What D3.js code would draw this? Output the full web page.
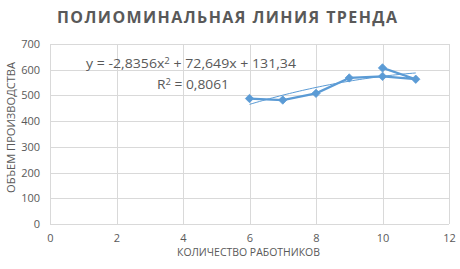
<!DOCTYPE html>
<html><head><meta charset="utf-8">
<script src="https://cdn.jsdelivr.net/npm/d3@7"></script>
<style>
html,body{margin:0;padding:0;background:#fff;}
text{font-family:"Open Sans","Noto Sans",sans-serif;fill:#595959;}
</style></head>
<body><svg id="chart" width="460" height="269"></svg>
<script>
const title = "ПОЛИОМИНАЛЬНАЯ ЛИНИЯ ТРЕНДА";
const xAxisTitle = "КОЛИЧЕСТВО РАБОТНИКОВ";
const yAxisTitle = "ОБЪЕМ ПРОИЗВОДСТВА";
const xValues = [6, 7, 8, 9, 10, 11, 10];
const yValues = [488, 482, 508, 568, 574, 563, 607];
const xTicks = [0, 2, 4, 6, 8, 10, 12];
const yTicks = [0, 100, 200, 300, 400, 500, 600, 700];
const trendCoef = [-2.8356, 72.649, 131.34]; // a, b, c
const trendRange = [6, 11];
const rSquared = "0,8061";

const svg = d3.select("#chart");
const x = d3.scaleLinear().domain([0, 12]).range([50, 449]);
const y = d3.scaleLinear().domain([0, 700]).range([224, 44]);
const grid = "#d9d9d9";
const blue = "#5b9bd5";
const font = '"Open Sans","Noto Sans",sans-serif';

// gridlines
svg.append("g").selectAll("line.h").data(yTicks).join("line")
  .attr("x1", x(0)).attr("x2", x(12))
  .attr("y1", d => Math.round(y(d)) + 0.5).attr("y2", d => Math.round(y(d)) + 0.5)
  .attr("stroke", grid).attr("stroke-width", 1);
svg.append("g").selectAll("line.v").data(xTicks).join("line")
  .attr("y1", y(0)).attr("y2", y(700))
  .attr("x1", d => Math.round(x(d)) + 0.5).attr("x2", d => Math.round(x(d)) + 0.5)
  .attr("stroke", grid).attr("stroke-width", 1);

// axes
const xAxis = d3.axisBottom(x).tickValues(xTicks).tickSize(0).tickPadding(10);
const gx = svg.append("g").attr("transform", `translate(0,${y(0)})`).call(xAxis);
gx.select(".domain").remove();
gx.selectAll("text").style("font-size", "11px").style("fill", "#595959").style("font-family", font);

const yAxis = d3.axisLeft(y).tickValues(yTicks).tickSize(0).tickPadding(10);
const gy = svg.append("g").attr("transform", `translate(${x(0)},0)`).call(yAxis);
gy.select(".domain").remove();
gy.selectAll("text").style("font-size", "11px").style("fill", "#595959").style("font-family", font);

// trendline
const a = trendCoef[0], b = trendCoef[1], c = trendCoef[2];
const tPts = d3.range(trendRange[0], trendRange[1] + 0.001, 0.1).map(v => [v, a*v*v + b*v + c]);
svg.append("path").datum(tPts)
  .attr("d", d3.line().x(d => x(d[0])).y(d => y(d[1])))
  .attr("fill", "none").attr("stroke", blue).attr("stroke-width", 1);

// series line
const pts = xValues.map((v, i) => [v, yValues[i]]);
svg.append("path").datum(pts)
  .attr("d", d3.line().x(d => x(d[0])).y(d => y(d[1])))
  .attr("fill", "none").attr("stroke", blue).attr("stroke-width", 2.25)
  .attr("stroke-linejoin", "round");

// markers
svg.append("g").selectAll("path").data(pts).join("path")
  .attr("transform", d => `translate(${x(d[0])},${y(d[1])})`)
  .attr("d", "M0,-4.2L4.2,0L0,4.2L-4.2,0Z")
  .attr("fill", blue).attr("stroke", blue).attr("stroke-width", 0.75);

// title
svg.append("text").attr("x", 57).attr("y", 23)
  .attr("textLength", 340).attr("lengthAdjust", "spacing")
  .style("font-size", "16px").style("font-weight", "bold").style("fill", "#595959")
  .text(title);

// axis titles
svg.append("text").attr("x", 177).attr("y", 256)
  .attr("textLength", 143).attr("lengthAdjust", "spacingAndGlyphs")
  .style("font-size", "10.5px").text(xAxisTitle);
svg.append("text").attr("transform", "translate(15,193) rotate(-90)")
  .attr("textLength", 131).attr("lengthAdjust", "spacingAndGlyphs")
  .style("font-size", "10.5px").text(yAxisTitle);

// equation label
const fmt = v => String(Math.abs(v)).replace(".", ",");
const eq = svg.append("text").attr("x", 86).attr("y", 68)
  .attr("textLength", 210).attr("lengthAdjust", "spacingAndGlyphs")
  .style("font-size", "12.5px").style("fill", "#595959");
eq.append("tspan").text(`y = ${a < 0 ? "-" : ""}${fmt(a)}x`);
eq.append("tspan").attr("dy", -4.5).style("font-size", "8.5px").text("2");
eq.append("tspan").attr("dy", 4.5).text(` + ${fmt(b)}x + ${fmt(c)}`);

const r2 = svg.append("text").attr("x", 157).attr("y", 89)
  .attr("textLength", 72).attr("lengthAdjust", "spacingAndGlyphs")
  .style("font-size", "12.5px").style("fill", "#595959");
r2.append("tspan").text("R");
r2.append("tspan").attr("dy", -4.5).style("font-size", "8.5px").text("2");
r2.append("tspan").attr("dy", 4.5).text(` = ${rSquared}`);
</script></body></html>
